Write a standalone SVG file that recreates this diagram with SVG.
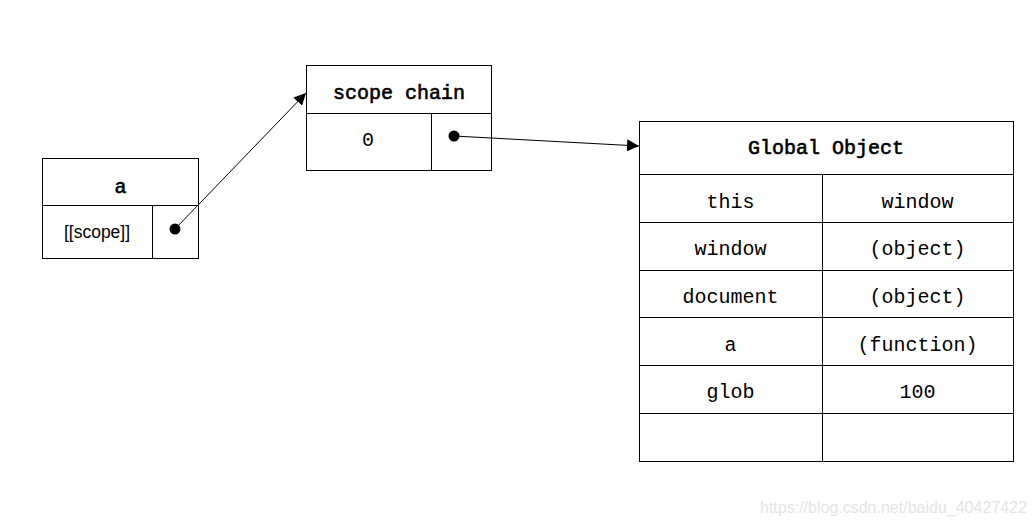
<svg xmlns="http://www.w3.org/2000/svg" width="1035" height="526" viewBox="0 0 1035 526">
<style>
.box{fill:#fff;stroke:#000;stroke-width:1}
.ln{stroke:#000;stroke-width:1;fill:none}
.m{font-family:"Liberation Mono","DejaVu Sans Mono",monospace;font-size:20px;fill:#000;text-anchor:middle;dominant-baseline:central}
.h{stroke:#000;stroke-width:0.6}
.s{font-family:"Liberation Sans",Arial,sans-serif;font-size:17.5px;fill:#000;text-anchor:middle;dominant-baseline:central}
.wm{font-family:"Liberation Sans",Arial,sans-serif;font-size:16px;fill:#e4e4e4}
</style>
<defs>
<marker id="ah" viewBox="0 0 10 10" refX="10" refY="5" markerWidth="12" markerHeight="12" markerUnits="userSpaceOnUse" orient="auto">
<path d="M0,0 L10,5 L0,10 z" fill="#000"/>
</marker>
</defs>
<rect width="1035" height="526" fill="#fff"/>
<g id="node-a">
<rect class="box" x="42.5" y="158.5" width="156" height="100"/>
<line class="ln" x1="42.5" y1="205.5" x2="198.5" y2="205.5"/>
<line class="ln" x1="152.5" y1="205.5" x2="152.5" y2="258.5"/>
<text class="m h" x="120.5" y="187">a</text>
<text class="s" x="97" y="232">[[scope]]</text>
<circle cx="175" cy="229" r="5.5" fill="#000"/>
</g>
<g id="node-scope-chain">
<rect class="box" x="306.5" y="65.5" width="185" height="105"/>
<line class="ln" x1="306.5" y1="113.5" x2="491.5" y2="113.5"/>
<line class="ln" x1="431.5" y1="113.5" x2="431.5" y2="170.5"/>
<text class="m h" x="399" y="93">scope chain</text>
<text class="m" x="368" y="140">0</text>
<circle cx="454" cy="136" r="5.5" fill="#000"/>
</g>
<g id="node-global-object">
<rect class="box" x="639.5" y="121.5" width="374" height="340"/>
<line class="ln" x1="639.5" y1="174.5" x2="1013.5" y2="174.5"/>
<line class="ln" x1="639.5" y1="222.5" x2="1013.5" y2="222.5"/>
<line class="ln" x1="639.5" y1="270.5" x2="1013.5" y2="270.5"/>
<line class="ln" x1="639.5" y1="317.5" x2="1013.5" y2="317.5"/>
<line class="ln" x1="639.5" y1="365.5" x2="1013.5" y2="365.5"/>
<line class="ln" x1="639.5" y1="413.5" x2="1013.5" y2="413.5"/>
<line class="ln" x1="822.5" y1="174.5" x2="822.5" y2="461.5"/>
<text class="m h" x="826" y="148">Global Object</text>
<text class="m" x="730.5" y="202">this</text>
<text class="m" x="917.5" y="202">window</text>
<text class="m" x="730.5" y="249">window</text>
<text class="m" x="917.5" y="249">(object)</text>
<text class="m" x="730.5" y="297">document</text>
<text class="m" x="917.5" y="297">(object)</text>
<text class="m" x="730.5" y="345">a</text>
<text class="m" x="917.5" y="345">(function)</text>
<text class="m" x="730.5" y="392">glob</text>
<text class="m" x="917.5" y="392">100</text>
</g>
<g id="connectors">
<line class="ln" x1="175" y1="229" x2="306" y2="93" marker-end="url(#ah)"/>
<line class="ln" x1="454" y1="136" x2="639" y2="146" marker-end="url(#ah)"/>
</g>
<text class="wm" x="760" y="513">https://blog.csdn.net/baidu_40427422</text>
</svg>
